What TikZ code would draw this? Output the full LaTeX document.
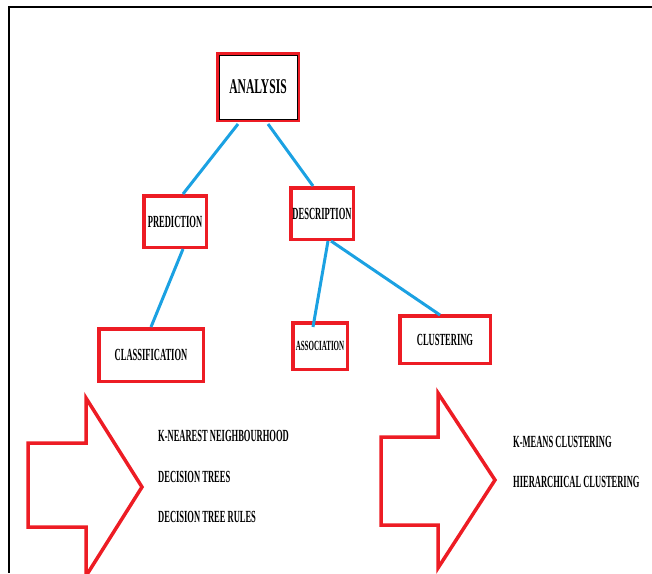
\documentclass[tikz,border=0pt]{standalone}
\usepackage{fontspec}
\usetikzlibrary{calc}
\newfontfamily\boxfont{Liberation Serif}[FakeStretch=0.5]
\newfontfamily\titlefont{Liberation Serif}[FakeStretch=0.55]
\definecolor{boxred}{RGB}{237,28,36}
\definecolor{linkblue}{RGB}{27,161,226}
\tikzset{
  box/.style={draw=boxred, line width=3.5pt, inner sep=0pt,
    font=\boxfont\bfseries\fontsize{17}{17}\selectfont},
  link/.style={draw=linkblue, line width=3pt},
  bigarrow/.style={draw=boxred, line width=3.5pt, line join=miter},
  item/.style={anchor=west, inner sep=0pt,
    font=\boxfont\bfseries\fontsize{17}{17}\selectfont}
}
\begin{document}
\begin{tikzpicture}[x=1pt,y=-1pt]
  \useasboundingbox (0,0) rectangle (652,573);
  % frame of the page
  \draw[line width=2.5pt] (8,7) -- (652,7);
  \draw[line width=2.5pt] (9,7) -- (9,573);
  % the tree
  \node[box, minimum width=80.5pt, minimum height=66.5pt,
    font=\titlefont\bfseries\fontsize{21}{21}\selectfont] (an) at (258,87) {ANALYSIS};
  \draw[line width=0.8pt] ($(an.north west)+(3,3)$) rectangle ($(an.south east)+(-3,-3)$);
  \node[box, minimum width=62.5pt, minimum height=51.5pt] (pr) at (175,221.5) {PREDICTION};
  \node[box, minimum width=62.5pt, minimum height=51.5pt] (de) at (322,213.5) {DESCRIPTION};
  \node[box, minimum width=104.5pt, minimum height=52.5pt] (cl) at (151,355) {CLASSIFICATION};
  \node[box, minimum width=54.5pt, minimum height=46.5pt,
    font=\boxfont\bfseries\fontsize{14}{14}\selectfont] (as) at (320,346) {ASSOCIATION};
  \node[box, minimum width=90.5pt, minimum height=47.5pt] (cu) at (445,339.5) {CLUSTERING};
  % connectors
  \draw[link] ($(an.south)+(-20,2)$) -- ($(pr.north)+(8,0)$);
  \draw[link] ($(an.south)+(10,2)$) -- ($(de.north)+(-9,0)$);
  \draw[link] ($(pr.south)+(8,0)$) -- (cl.north);
  \draw[link] ($(de.south)+(6,0)$) -- ($(as.north)+(-7,6)$);
  \draw[link] ($(de.south)+(9,0)$) -- ($(cu.north)+(-5,1)$);
  % arrow to the classification methods
  \draw[bigarrow] (28,443) -- (86,443) -- (86,398) -- (142,487) -- (86,576)
    -- (86,527) -- (28,527) -- cycle;
  \node[item] (knn) at (158,436) {K-NEAREST NEIGHBOURHOOD};
  \node[item] (dt) at (158,477) {DECISION TREES};
  \node[item] (dtr) at (158,517) {DECISION TREE RULES};
  % arrow to the clustering methods
  \draw[bigarrow] (381,437) -- (438,437) -- (438,393) -- (495,480) -- (438,568)
    -- (438,525) -- (381,525) -- cycle;
  \node[item] (km) at (513,442) {K-MEANS CLUSTERING};
  \node[item] (hc) at (513,482) {HIERARCHICAL CLUSTERING};
\end{tikzpicture}
\end{document}
